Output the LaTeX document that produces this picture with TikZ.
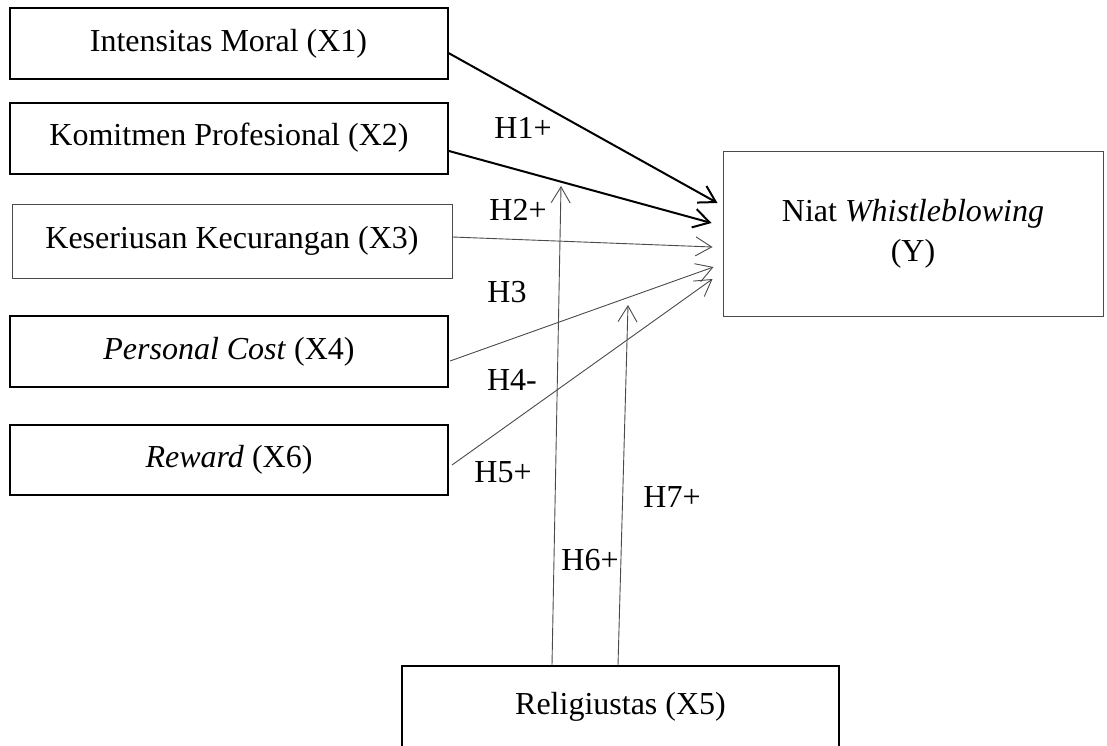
\documentclass[tikz,border=0pt]{standalone}
\usepackage{fontspec}
\setmainfont{Liberation Serif}
\usetikzlibrary{calc,arrows.meta}
\definecolor{ink}{HTML}{000000}
\definecolor{soft}{HTML}{4A4A4A}
\tikzset{
  var/.style={draw=ink, line width=2pt, minimum width=438pt, minimum height=71pt, inner sep=0pt, font=\fontsize{32}{40}\selectfont},
  varthin/.style={var, draw=soft, line width=1pt},
  main/.style={draw=ink, line width=2pt, -{Straight Barb[length=16pt,width=19pt]}},
  link/.style={draw=soft, line width=0.9pt, -{Straight Barb[length=16pt,width=19pt]}},
  hyp/.style={font=\fontsize{32}{40}\selectfont, inner sep=0pt},
}
\begin{document}
\begin{tikzpicture}[x=1pt,y=-1pt]
  \useasboundingbox (0,0) rectangle (1107,745);
  \clip (0,0) rectangle (1107,745);
  % independent variables
  \node[var] (x1) at (228.5,43.5) {Intensitas Moral (X1)};
  \node[var] (x2) at (229,138) {Komitmen Profesional (X2)};
  \node[varthin, minimum width=440pt, minimum height=74pt] (x3) at (232,241) {Keseriusan Kecurangan (X3)};
  \node[var] (x4) at (229,351.5) {\textit{Personal Cost} (X4)};
  \node[var, minimum height=70pt] (x6) at (229,460) {\textit{Reward} (X6)};
  % dependent and moderating variables
  \node[varthin, minimum width=380pt, minimum height=165pt, align=center] (y) at (913,233.5) {Niat \textit{Whistleblowing}\\(Y)};
  \node[var, minimum width=437pt, minimum height=82pt] (x5) at (620.5,707) {Religiustas (X5)};
  % arrow tips
  \coordinate (t1) at ($(y.west)+(-5,-30.5)$);
  \coordinate (t2) at ($(y.west)+(-11,-10.5)$);
  \coordinate (t3) at ($(y.west)+(-10,13.5)$);
  \coordinate (t4) at ($(y.west)+(-9,33.5)$);
  \coordinate (t6) at ($(y.west)+(-10,45.5)$);
  \coordinate (m6) at (561,186);
  \coordinate (m7) at (628,305);
  % paths
  \draw[main] ($(x1.east)+(0,9.5)$) -- (t1);
  \draw[main] ($(x2.east)+(0,13)$) -- (t2);
  \draw[link] ($(x3.east)+(0,-4)$) -- (t3);
  \draw[link] ($(x4.east)+(1,9.5)$) -- (t4);
  \draw[link] ($(x6.east)+(3,5)$) -- (t6);
  \draw[link] ($(x5.north)+(-68.5,0)$) -- (m6);
  \draw[link] ($(x5.north)+(-2.5,0)$) -- (m7);
  % hypotheses
  \node[hyp] (h1) at (523,128) {H1+};
  \node[hyp] (h2) at (518,210) {H2+};
  \node[hyp] (h3) at (507,292) {H3};
  \node[hyp] (h4) at (512,380) {H4-};
  \node[hyp] (h5) at (503,472) {H5+};
  \node[hyp] (h6) at (590,560) {H6+};
  \node[hyp] (h7) at (672,497) {H7+};
\end{tikzpicture}
\end{document}
